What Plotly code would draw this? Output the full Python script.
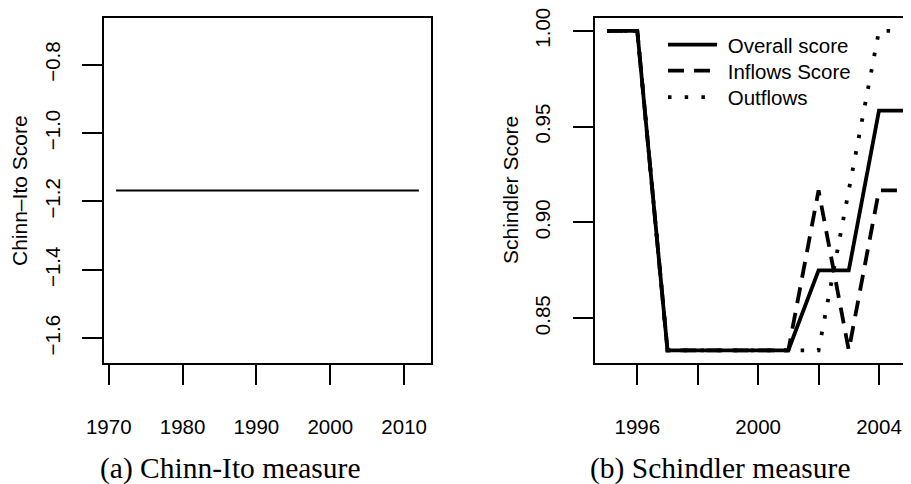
import plotly.graph_objects as go

# ---- data ----
chinn_years = list(range(1971, 2013))
chinn_score = [-1.168, -1.168, -1.168, -1.168, -1.168, -1.168, -1.168, -1.168, -1.168, -1.168,
               -1.168, -1.168, -1.168, -1.168, -1.168, -1.168, -1.168, -1.168, -1.168, -1.168,
               -1.168, -1.168, -1.168, -1.168, -1.168, -1.168, -1.168, -1.168, -1.168, -1.168,
               -1.168, -1.168, -1.168, -1.168, -1.168, -1.168, -1.168, -1.168, -1.168, -1.168,
               -1.168, -1.168]

sch_years = [1995, 1996, 1997, 1998, 1999, 2000, 2001, 2002, 2003, 2004, 2005]
overall = [1.0, 1.0, 0.8333, 0.8333, 0.8333, 0.8333, 0.8333, 0.875, 0.875, 0.9583, 0.9583]
inflows = [1.0, 1.0, 0.8333, 0.8333, 0.8333, 0.8333, 0.8333, 0.9167, 0.8333, 0.9167, 0.9167]
outflows = [1.0, 1.0, 0.8333, 0.8333, 0.8333, 0.8333, 0.8333, 0.8333, 0.9167, 1.0, 1.0]

left_xticks = [1970, 1980, 1990, 2000, 2010]
left_yticks = [-1.6, -1.4, -1.2, -1.0, -0.8]
left_yticklabels = ["\u22121.6", "\u22121.4", "\u22121.2", "\u22121.0", "\u22120.8"]
right_xticks = [1996, 1998, 2000, 2002, 2004]
right_xticklabels = ["1996", "", "2000", "", "2004"]
right_yticks = [0.85, 0.90, 0.95, 1.00]
right_yticklabels = ["0.85", "0.90", "0.95", "1.00"]

# page has an 8px body margin; the figure is sized to fit the window
OFF = 8
W, H = 903, 476
SANS = "Liberation Sans, Arial, sans-serif"
SERIF = "Liberation Serif, Times New Roman, serif"
FS = 20.5


def px(p):
    return (p - OFF) / W


def py(p):
    return 1 - (p - OFF) / H


fig = go.Figure()
fig.add_trace(go.Scatter(x=chinn_years, y=chinn_score, mode="lines",
                         line=dict(color="black", width=1.8), showlegend=False,
                         xaxis="x", yaxis="y"))
fig.add_trace(go.Scatter(x=sch_years, y=overall, mode="lines", name="\u00a0Overall score",
                         line=dict(color="black", width=3.8), xaxis="x2", yaxis="y2",
                         legend="legend"))
fig.add_trace(go.Scatter(x=sch_years, y=inflows, mode="lines", name="\u00a0Inflows Score",
                         line=dict(color="black", width=3.8, dash="16px,10px"),
                         xaxis="x2", yaxis="y2", legend="legend2"))
fig.add_trace(go.Scatter(x=sch_years, y=outflows, mode="lines", name="\u00a0Outflows",
                         line=dict(color="black", width=3.8, dash="3.5px,13.2px"),
                         xaxis="x2", yaxis="y2", legend="legend3"))

axis_common = dict(showgrid=False, zeroline=False, showline=True, linecolor="black",
                   linewidth=2.2, ticks="outside", ticklen=20, tickwidth=1.6, tickcolor="black",
                   tickfont=dict(family=SANS, size=FS, color="black"), automargin=False,
                   ticklabeloverflow="allow")

legend_common = dict(xanchor="left", yanchor="top", bgcolor="rgba(0,0,0,0)",
                     borderwidth=0, itemwidth=49,
                     font=dict(family=SANS, size=FS, color="black"))

fig.update_layout(
    width=W, height=H, autosize=False,
    margin=dict(l=0, r=0, t=0, b=0),
    paper_bgcolor="white", plot_bgcolor="white",
    xaxis=dict(domain=[px(104), px(431)], range=[1969.36, 2013.64], anchor="y",
               tickmode="array", tickvals=left_xticks, ticklabelstandoff=24,
               mirror=True, **axis_common),
    yaxis=dict(domain=[py(363), py(18)], range=[-1.6725, -0.6635], anchor="x",
               tickmode="array", tickvals=left_yticks, ticktext=left_yticklabels,
               tickangle=-90, ticklabelstandoff=14, mirror=True, **axis_common),
    xaxis2=dict(domain=[px(595), 1.0], range=[1994.6, 2005.06], anchor="y2",
                tickmode="array", tickvals=right_xticks, ticktext=right_xticklabels,
                ticklabelstandoff=24, mirror=True, **axis_common),
    yaxis2=dict(domain=[py(363), py(18)], range=[0.82667, 1.00667], anchor="x2",
                tickmode="array", tickvals=right_yticks, ticktext=right_yticklabels,
                tickangle=-90, ticklabelstandoff=15, mirror=False, **axis_common),
    legend=dict(x=px(663), y=py(24.7), **legend_common),
    legend2=dict(x=px(663), y=py(50.7), **legend_common),
    legend3=dict(x=px(663), y=py(77.3), **legend_common),
    annotations=[
        dict(text="Chinn\u2013Ito Score", x=px(20), y=py(191), xref="paper", yref="paper",
             xanchor="center", yanchor="middle",
             textangle=-90, showarrow=False, font=dict(family=SANS, size=21, color="black")),
        dict(text="Schindler Score", x=px(510), y=py(190), xref="paper", yref="paper",
             xanchor="center", yanchor="middle",
             textangle=-90, showarrow=False, font=dict(family=SANS, size=21, color="black")),
        dict(text="(a) Chinn-Ito measure", x=px(230), y=py(468.5), xref="paper", yref="paper",
             xanchor="center", yanchor="middle",
             showarrow=False, font=dict(family=SERIF, size=29.5, color="black")),
        dict(text="(b) Schindler measure", x=px(720), y=py(468.5), xref="paper", yref="paper",
             xanchor="center", yanchor="middle",
             showarrow=False, font=dict(family=SERIF, size=29.5, color="black")),
    ],
)

fig.write_html("out.html")
